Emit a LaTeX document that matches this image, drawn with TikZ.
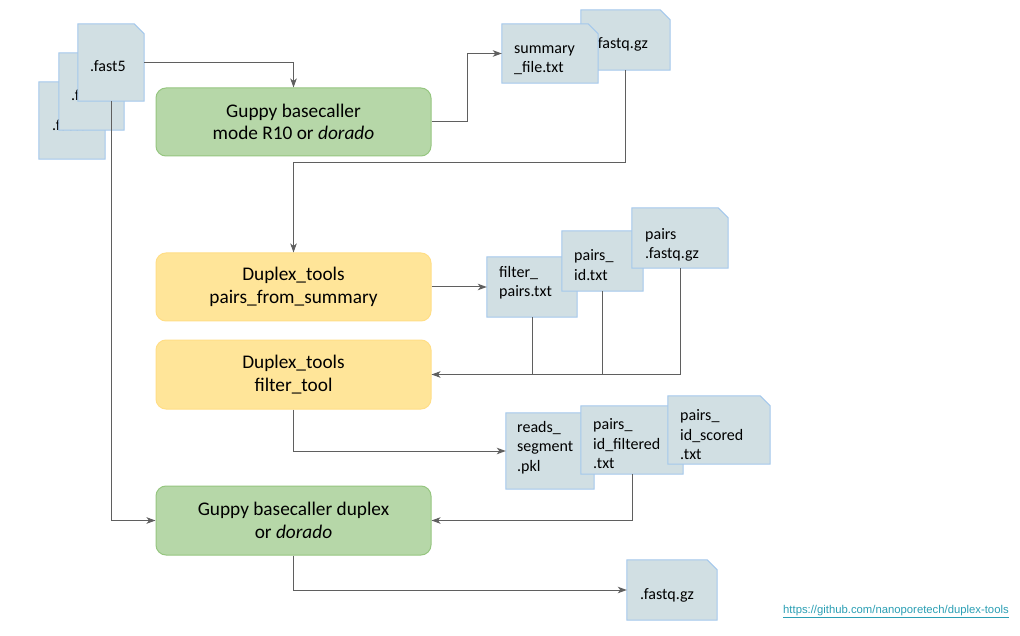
\documentclass[tikz,border=0pt]{standalone}
\usepackage{fontspec}
\setmainfont{Carlito}
\newfontfamily\urlfont{Liberation Sans}
\usetikzlibrary{arrows.meta}
\definecolor{docfill}{RGB}{209,223,227}
\definecolor{docline}{RGB}{164,200,236}
\definecolor{gfill}{RGB}{182,215,168}
\definecolor{gline}{RGB}{150,198,128}
\definecolor{yfill}{RGB}{255,229,153}
\definecolor{yline}{RGB}{255,222,135}
\definecolor{conn}{RGB}{95,95,95}
\definecolor{urlc}{RGB}{43,159,180}
\tikzset{
  doc/.style={rectangle, inner sep=0pt,
    append after command={\pgfextra{%
      \path[fill=docfill, draw=docline, line width=1pt]
        (\tikzlastnode.north west) -- ([xshift=-10pt]\tikzlastnode.north east)
        -- ([yshift=-10pt]\tikzlastnode.north east) -- (\tikzlastnode.south east)
        -- (\tikzlastnode.south west) -- cycle;}}},
  doctext/.style={anchor=west, align=left, inner sep=0pt,
    font=\fontsize{16}{19.5}\selectfont},
  procbox/.style={rounded corners=10pt, line width=1pt, minimum width=275pt,
    align=center, inner sep=0pt, font=\fontsize{19.3}{22.5}\selectfont},
  greenbox/.style={procbox, fill=gfill, draw=gline},
  yellowbox/.style={procbox, fill=yfill, draw=yline},
  conline/.style={draw=conn, line width=1pt},
  arr/.style={conline, -{Stealth[length=9pt,width=6.5pt,inset=2.5pt]}}
}
\begin{document}
\begin{tikzpicture}[x=1pt,y=-1pt]
\useasboundingbox (0,0) rectangle (1020,636);
\fill[white] (0,0) rectangle (1020,636);

% fast5 stack
\node[doc, minimum width=66pt, minimum height=77pt] (f5c) at (72,120.5) {};
\node[doctext] (f5ct) at (52,125) {.fast5};
\node[doc, minimum width=65pt, minimum height=77pt] (f5b) at (91.5,91.5) {};
\node[doctext] (f5bt) at (71,95) {.fast5};
\node[doc, minimum width=66pt, minimum height=77pt] (f5a) at (111,62.5) {};
\node[doctext] (f5at) at (90,66) {.fast5};

% process boxes
\node[greenbox, minimum height=68pt] (g1) at (293.5,122) {Guppy basecaller\\mode R10 or \textit{dorado}};
\node[yellowbox, minimum height=68pt] (g3) at (293.5,287) {Duplex\_tools\\pairs\_from\_summary};
\node[yellowbox, minimum height=69pt] (g4) at (293.5,374.5) {Duplex\_tools\\filter\_tool};
\node[greenbox, minimum height=69pt] (g2) at (293.5,520.5) {Guppy basecaller duplex\\or \textit{dorado}};

% outputs of basecalling
\node[doc, minimum width=89pt, minimum height=60pt] (fq1) at (625.5,40) {};
\node[doctext] (fq1t) at (594,44) {.fastq.gz};
\node[doc, minimum width=96pt, minimum height=59pt] (sum) at (550,53.5) {};
\node[doctext] (sumt) at (514,60) {summary\\\_file.txt};

% outputs of pairs_from_summary
\node[doc, minimum width=90pt, minimum height=60pt] (fp) at (532,287) {};
\node[doctext] (fpt) at (499,282.5) {filter\_\\pairs.txt};
\node[doc, minimum width=81pt, minimum height=60pt] (pid) at (602.5,261) {};
\node[doctext] (pidt) at (574,265) {pairs\_\\id.txt};
\node[doc, minimum width=96pt, minimum height=60pt] (pfq) at (680,238) {};
\node[doctext] (pfqt) at (645,245) {pairs\\.fastq.gz};

% outputs of filter_tool
\node[doc, minimum width=88pt, minimum height=76pt] (rs) at (550,451) {};
\node[doctext] (rst) at (517,447.5) {reads\_\\segment\\.pkl};
\node[doc, minimum width=102pt, minimum height=68pt] (pif) at (632,440) {};
\node[doctext] (pift) at (593,444) {pairs\_\\id\_filtered\\.txt};
\node[doc, minimum width=102pt, minimum height=68pt] (pis) at (719,430) {};
\node[doctext] (pist) at (680,435) {pairs\_\\id\_scored\\.txt};

% final output
\node[doc, minimum width=90pt, minimum height=60pt] (fq2) at (672,590) {};
\node[doctext] (fq2t) at (640,595) {.fastq.gz};

% url
\node[anchor=west, inner sep=0pt, text=urlc, font=\urlfont\fontsize{11.3}{13}\selectfont] (url) at (783,612) {\underline{https://github.com/nanoporetech/duplex-tools}};

% connectors
\draw[arr] (f5a.east) -| (g1.north);
\draw[arr] (f5a.south) |- (g2.west);
\draw[arr] (g1.east) -- ++(36,0) |- (sum.west);
\draw[arr] (fq1.south) -- ++(0,92) -| (g3.north);
\draw[arr] (g3.east) -- (fp.west);
\draw[conline] (fp.south) -- (fp.south |- g4.east);
\draw[conline] (pid.south) -- (pid.south |- g4.east);
\draw[arr] (pfq.south) |- (g4.east);
\draw[arr] (g4.south) |- (rs.west);
\draw[arr] (pif.south) |- (g2.east);
\draw[arr] (g2.south) |- (fq2.west);
\end{tikzpicture}
\end{document}
